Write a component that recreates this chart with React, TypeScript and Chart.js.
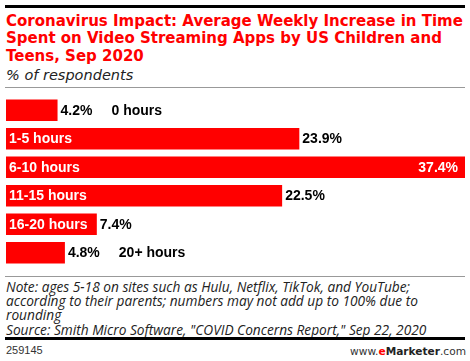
import React, { useEffect, useRef } from "react";
import { Chart, registerables } from "chart.js";

Chart.register(...registerables);

const categories = ["0 hours", "1-5 hours", "6-10 hours", "11-15 hours", "16-20 hours", "20+ hours"];
const values = [4.2, 23.9, 37.4, 22.5, 7.4, 4.8];
const valueLabels = ["4.2%", "23.9%", "37.4%", "22.5%", "7.4%", "4.8%"];

const titleLines = [
  "Coronavirus Impact: Average Weekly Increase in Time",
  "Spent on Video Streaming Apps by US Children and",
  "Teens, Sep 2020",
];
const subtitleText = "% of respondents";
const noteLines = [
  "Note: ages 5-18 on sites such as Hulu, Netflix, TikTok, and YouTube;",
  "according to their parents; numbers may not add up to 100% due to",
  "rounding",
  "Source: Smith Micro Software, \"COVID Concerns Report,\" Sep 22, 2020",
];
const chartId = "259145";

const RED = "#ff0000";
const LABEL_FONT = "bold 14px 'Liberation Sans', Arial, sans-serif";

const labelPlugin = {
  id: "barLabels",
  afterDatasetsDraw(chart: any) {
    const ctx = chart.ctx;
    const meta = chart.getDatasetMeta(0);
    const area = chart.chartArea;
    ctx.save();
    ctx.font = LABEL_FONT;
    ctx.textBaseline = "middle";
    meta.data.forEach((bar: any, i: number) => {
      const x0 = bar.base;
      const x1 = bar.x;
      const y = bar.y + 0.5;
      const cat = categories[i];
      const val = valueLabels[i];
      const catW = ctx.measureText(cat).width;
      const valW = ctx.measureText(val).width;
      const catInside = catW + 8 < x1 - x0;
      const valInside = x1 + 3 + valW > area.right;
      if (catInside) {
        ctx.fillStyle = "#ffffff";
        ctx.textAlign = "left";
        ctx.fillText(cat, x0 + 3, y);
      }
      if (valInside) {
        ctx.fillStyle = "#ffffff";
        ctx.textAlign = "right";
        ctx.fillText(val, x1 - 7, y);
      } else {
        ctx.fillStyle = "#000000";
        ctx.textAlign = "left";
        ctx.fillText(val, x1 + 3, y);
        if (!catInside) {
          ctx.fillText(cat, x1 + 3 + valW + 19, y);
        }
      }
    });
    ctx.restore();
  },
};

function BarChart() {
  const ref = useRef<HTMLCanvasElement | null>(null);
  useEffect(() => {
    if (!ref.current) return;
    const chart = new Chart(ref.current, {
      type: "bar",
      data: {
        labels: categories,
        datasets: [
          {
            data: values,
            backgroundColor: RED,
            borderWidth: 0,
            barPercentage: 0.76,
            categoryPercentage: 1,
          },
        ],
      },
      options: {
        indexAxis: "y",
        animation: false,
        responsive: false,
        maintainAspectRatio: false,
        layout: { padding: { left: 6, right: 5, top: 0, bottom: 0 } },
        plugins: { legend: { display: false }, tooltip: { enabled: false }, title: { display: false } },
        scales: {
          x: { display: false, min: 0, max: 37.4 },
          y: { display: false },
        },
      },
      plugins: [labelPlugin],
    });
    return () => chart.destroy();
  }, []);
  return <canvas ref={ref} width={470} height={171} style={{ position: "absolute", left: 0, top: 96, width: 470, height: 171 }} />;
}

export default function App() {
  useEffect(() => {
    document.body.style.margin = "0";
  }, []);
  const sans = "'Liberation Sans', Arial, sans-serif";
  const open = "'Open Sans', 'Liberation Sans', sans-serif";
  const dejavu = "'DejaVu Sans', sans-serif";
  return (
    <div style={{ position: "relative", width: 470, height: 361, background: "#fff", overflow: "hidden", fontFamily: sans }}>
      <div style={{ position: "absolute", left: 5, top: 5, width: 460, height: 3, background: "#000" }} />
      <div
        style={{
          position: "absolute",
          left: 6,
          top: 13,
          fontFamily: dejavu,
          fontSize: 15,
          fontWeight: "bold",
          lineHeight: "17.3px",
          color: RED,
          whiteSpace: "nowrap",
        }}
      >
        {titleLines.map((l, i) => (
          <div key={i}>{l}</div>
        ))}
      </div>
      <div style={{ position: "absolute", left: 6, top: 65.5, fontFamily: dejavu, fontSize: 14.5, fontStyle: "italic", color: "#222", lineHeight: "18px", whiteSpace: "nowrap" }}>
        {subtitleText}
      </div>
      <div style={{ position: "absolute", left: 5, top: 87, width: 460, height: 1, background: "#999" }} />
      <BarChart />
      <div style={{ position: "absolute", left: 5, top: 276, width: 460, height: 1, background: "#999" }} />
      <div style={{ position: "absolute", left: 6, top: 279.6, fontFamily: open, fontSize: 13.7, fontStyle: "italic", color: "#222", lineHeight: "14.4px", whiteSpace: "nowrap" }}>
        {noteLines.map((l, i) => (
          <div key={i}>{l}</div>
        ))}
      </div>
      <div style={{ position: "absolute", left: 5, top: 337, width: 460, height: 3, background: "#000" }} />
      <div style={{ position: "absolute", left: 6, top: 344, fontSize: 11, color: "#333", lineHeight: "13px" }}>{chartId}</div>
      <div style={{ position: "absolute", right: 4, top: 343.5, fontFamily: dejavu, fontSize: 10.6, color: "#333", lineHeight: "14px", whiteSpace: "nowrap" }}>
        www.<span style={{ color: RED, fontWeight: "bold" }}>e</span>
        <span style={{ fontWeight: "bold", color: "#222" }}>Marketer</span>.com
      </div>
    </div>
  );
}
